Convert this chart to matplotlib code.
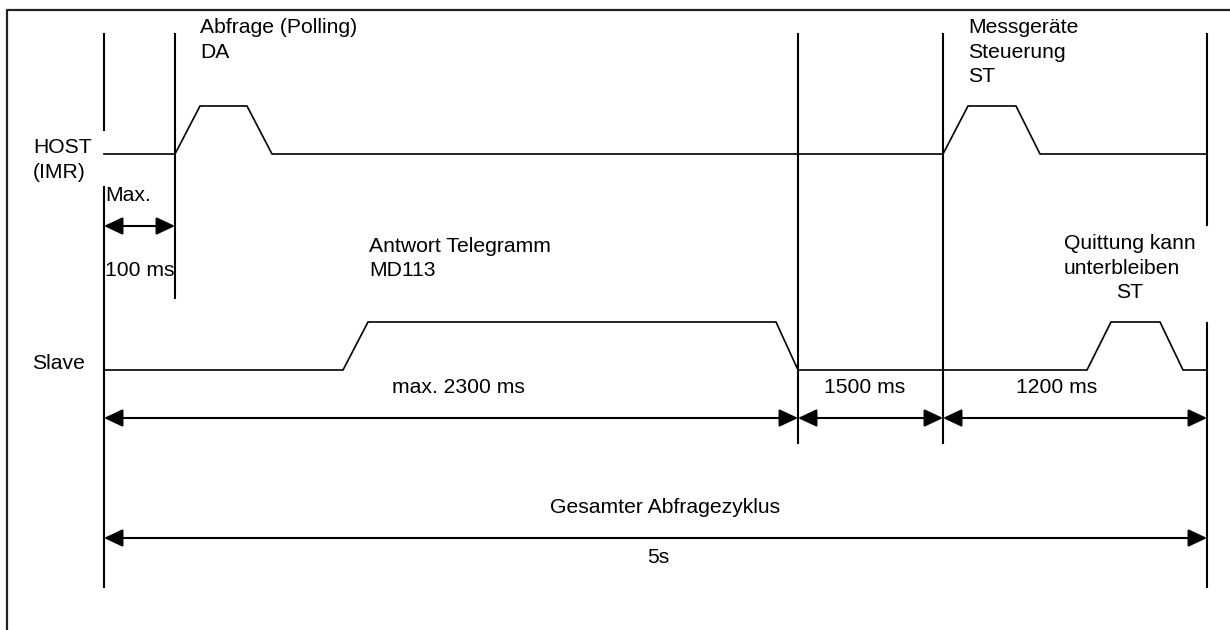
import matplotlib.pyplot as plt
from matplotlib.patches import FancyArrowPatch, Rectangle

plt.rcParams['font.family'] = ['Liberation Sans', 'DejaVu Sans']

# Event markers (diagram x units, not to time scale)
marker_x = [104, 175, 798, 943, 1207]
marker_top = [34, 34, 34, 34, 34]
marker_bottom = [587, 298, 443, 443, 587]

# Signal traces: x of each corner and logic level (0 low, 1 high)
host_x = [104, 175, 200, 247, 272, 943, 968, 1016, 1040, 1207]
host_level = [0, 0, 1, 1, 0, 0, 1, 1, 0, 0]
slave_x = [104, 343, 368, 776, 798, 1087, 1111, 1160, 1183, 1207]
slave_level = [0, 0, 1, 1, 0, 0, 1, 1, 0, 0]

# Dimension spans: start marker, end marker, label
spans_top = [(104, 175)]
spans_mid = [(104, 798, "max. 2300 ms"), (798, 943, "1500 ms"), (943, 1207, "1200 ms")]
span_total = (104, 1207, "5s")

fig = plt.figure(figsize=(12.3, 6.3), dpi=100)
ax = fig.add_axes([0, 0, 1, 1])
ax.set_xlim(0, 1230)
ax.set_ylim(630, 0)
ax.axis("off")

FS = 15.2
LH = 24.5

def label(x, y, s, ha="left"):
    for i, line in enumerate(s.split("\n")):
        ax.text(x, y + i * LH, line, fontsize=FS, ha=ha, va="baseline")

# outer frame (cut off on the right and bottom)
ax.plot([7, 7, 1230], [630, 10, 10], color="#222222", lw=1.6, solid_capstyle="butt")

# vertical markers, with gaps where labels sit on top of them
gaps = {104: (130, 187), 1207: (225, 323)}
for x, t, b in zip(marker_x, marker_top, marker_bottom):
    if x in gaps:
        g0, g1 = gaps[x]
        ax.plot([x, x], [t, g0], color="black", lw=1.5)
        ax.plot([x, x], [g1, b], color="black", lw=1.5)
    else:
        ax.plot([x, x], [t, b], color="black", lw=1.5)

# signals
def trace(xs, levels, base, amp):
    ys = [base - amp * v for v in levels]
    ax.plot(xs, ys, color="black", lw=1.2, solid_joinstyle="miter")

trace(host_x, host_level, 154, 48)
trace(slave_x, slave_level, 370, 48)

def dim(x0, x1, y):
    a = FancyArrowPatch((x0, y), (x1, y), arrowstyle="<|-|>,head_length=1.15,head_width=0.54",
                        mutation_scale=10, color="black", lw=1.5, shrinkA=0, shrinkB=0)
    ax.add_patch(a)

for x0, x1 in spans_top:
    dim(x0, x1, 226)
for x0, x1, _ in spans_mid:
    dim(x0, x1, 418)
dim(span_total[0], span_total[1], 538)

# texts
label(200, 33, "Abfrage (Polling)\nDA")
label(33, 153, "HOST\n(IMR)")
label(105, 201, "Max.")
t = ax.text(105, 276, "100 ms", fontsize=FS, ha="left", va="baseline")
clip = Rectangle((100, 250), 80, 20.5, transform=ax.transData)
t.set_clip_path(clip)
label(369, 252, "Antwort Telegramm\nMD113")
label(968, 33, "Messgeräte\nSteuerung\nST")
label(1064, 249, "Quittung kann\nunterbleiben")
label(1130, 298, "ST", ha="center")
label(32, 369, "Slave")
label(392, 393, spans_mid[0][2])
label(824, 393, spans_mid[1][2])
label(1016, 393, spans_mid[2][2])
label(550, 513, "Gesamter Abfragezyklus")
label(647, 563, span_total[2])

fig.savefig("out.png", dpi=100)
